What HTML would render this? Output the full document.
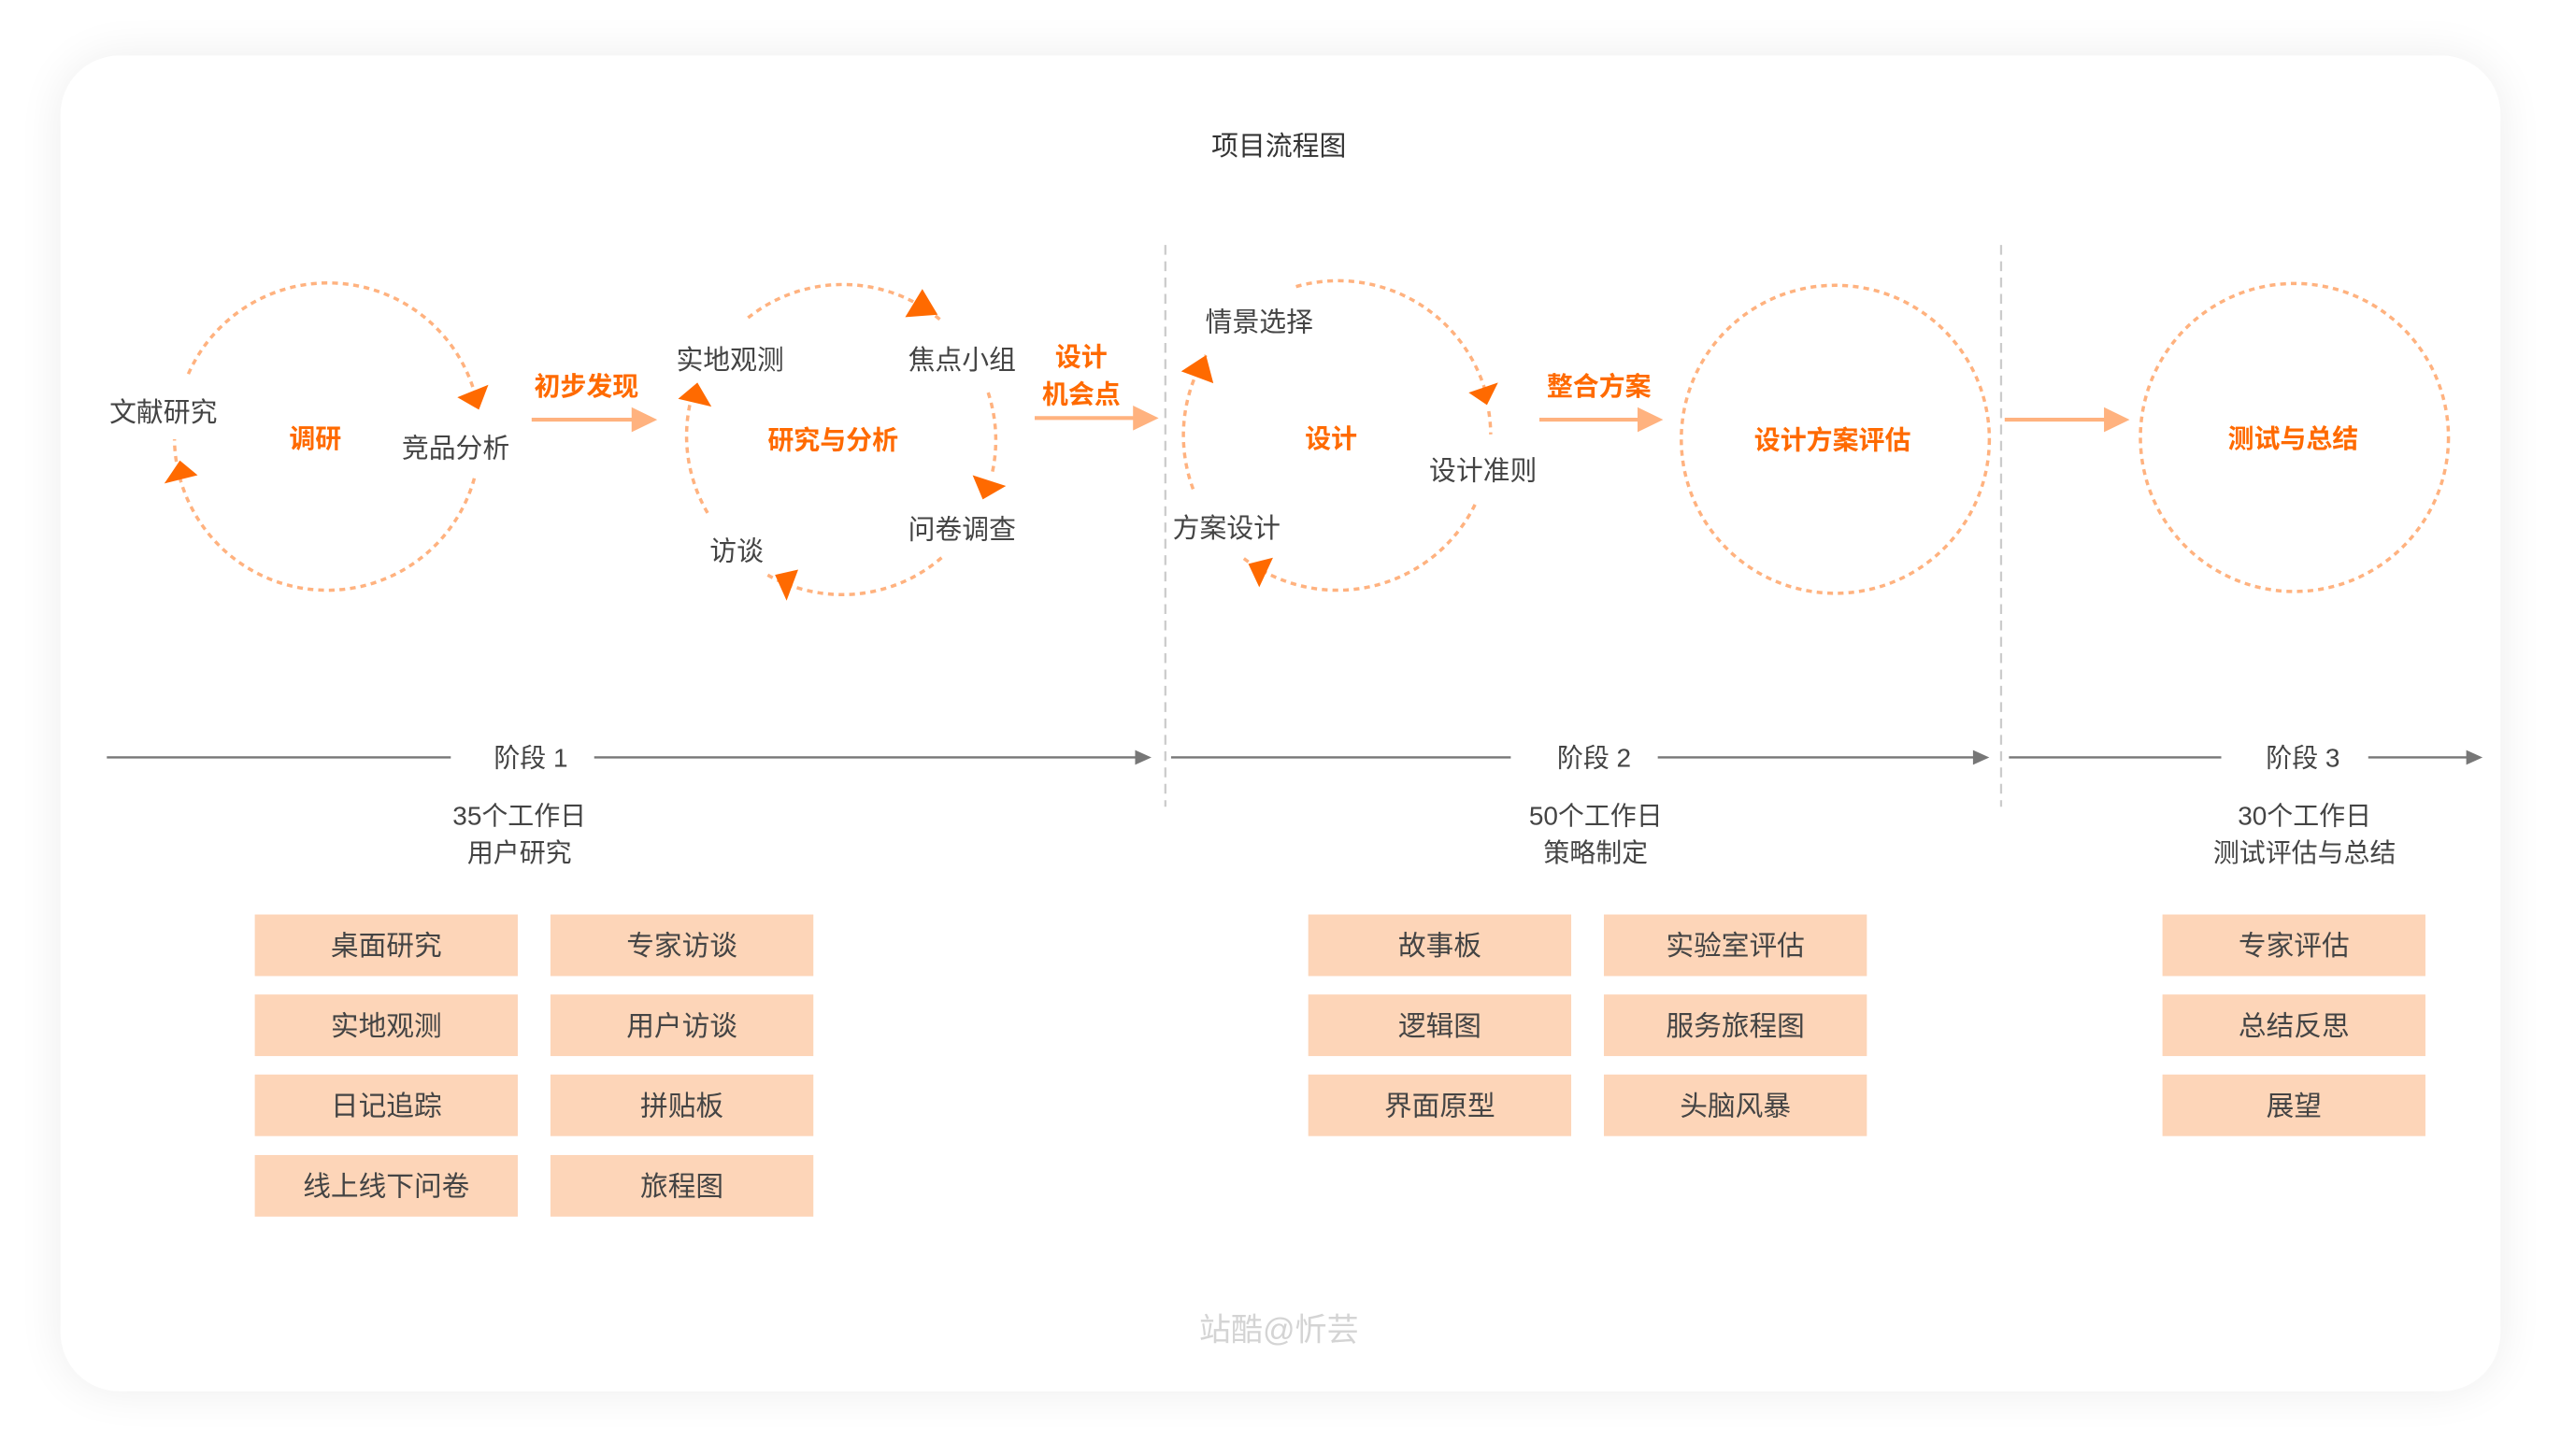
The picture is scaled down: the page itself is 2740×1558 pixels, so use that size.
<!DOCTYPE html>
<html><head><meta charset="utf-8"><style>
html,body{margin:0;padding:0;background:#fff;}
svg{display:block;}
text{font-family:"Liberation Sans","Noto Sans CJK SC",sans-serif;}
</style></head><body>
<svg width="2740" height="1558" viewBox="0 0 1568 891.6" xmlns="http://www.w3.org/2000/svg">
<defs>
<filter id="sh" x="-10%" y="-10%" width="120%" height="120%"><feGaussianBlur stdDeviation="14"/></filter>
</defs>
<rect width="1568" height="891.6" fill="#fff"/>
<rect x="37" y="34" width="1494" height="818" rx="36" fill="#000" opacity="0.07" filter="url(#sh)"/>
<rect x="37" y="34" width="1494" height="818" rx="36" fill="#fff"/>

<text x="783" y="95" font-size="16.5" fill="#333" text-anchor="middle">项目流程图</text>

<g fill="none" stroke="#ffb27f" stroke-width="2" stroke-dasharray="3.5 3">
<path d="M115.3 229 A93.5 93.5 0 0 1 293 251"/>
<path d="M290.4 292.9 A93.5 93.5 0 0 1 106.8 269"/>
<path d="M458 194.6 A93 93 0 0 1 576.5 196.5"/>
<path d="M605 240.4 A93 93 0 0 1 607.4 290"/>
<path d="M576.5 341.5 A93 93 0 0 1 469.8 352"/>
<path d="M422.3 248 A93 93 0 0 0 434.2 315.7"/>
<path d="M793.5 175.5 A94 94 0 0 1 911.5 248"/>
<path d="M911.5 251.8 A94 94 0 0 1 912.7 266"/>
<path d="M903.1 309 A94 94 0 0 1 759.8 340.6"/>
<path d="M730.5 299.5 A94 94 0 0 1 738.4 217.5"/>
<circle cx="1123.7" cy="269" r="94.3"/>
<circle cx="1404.8" cy="267.9" r="94.3"/>
</g>

<g fill="#ff6a00">
<polygon points="299,235.6 280,243.3 293.2,250.9"/>
<polygon points="100.6,296.1 110.1,282 121,291"/>
<polygon points="564.7,177 554.2,194.2 574.1,192.7"/>
<polygon points="427,234.3 415.2,244.2 435.6,249"/>
<polygon points="595.5,291 615.9,297.6 601.7,305.8"/>
<polygon points="474.5,352 488.7,348.8 481.6,367.8"/>
<polygon points="899.2,240.4 917.2,234.3 910.4,248"/>
<polygon points="764.3,345.3 779.4,341.5 771,359.6"/>
<polygon points="738.4,217.5 723.2,227.4 742.9,234.7"/>
</g>

<g stroke="#ffb27f" stroke-width="2.4" fill="#ffb27f">
<line x1="325.5" y1="257" x2="388" y2="257"/><polygon stroke="none" points="386.7,249.4 402.4,257 386.7,264.6"/>
<line x1="633.5" y1="256" x2="695" y2="256"/><polygon stroke="none" points="693.7,248.4 709.4,256 693.7,263.6"/>
<line x1="942.5" y1="257" x2="1004" y2="257"/><polygon stroke="none" points="1002.6,249.4 1018.3,257 1002.6,264.6"/>
<line x1="1227.4" y1="257" x2="1289" y2="257"/><polygon stroke="none" points="1288.2,249.4 1303.9,257 1288.2,264.6"/>
</g>

<g stroke="#cccccc" stroke-width="1.3" stroke-dasharray="6 4">
<line x1="713.5" y1="150" x2="713.5" y2="494"/>
<line x1="1225.2" y1="150" x2="1225.2" y2="494"/>
</g>

<g font-size="16.5" fill="#444" text-anchor="middle">
<text x="100" y="258">文献研究</text>
<text x="279" y="280">竞品分析</text>
<text x="447" y="226">实地观测</text>
<text x="589" y="226">焦点小组</text>
<text x="589" y="330">问卷调查</text>
<text x="451" y="343">访谈</text>
<text x="771" y="203">情景选择</text>
<text x="908" y="294">设计准则</text>
<text x="751" y="329">方案设计</text>
</g>
<g font-size="16" fill="#ff6a00" font-weight="bold" text-anchor="middle">
<text x="193" y="274">调研</text>
<text x="359" y="242">初步发现</text>
<text x="510" y="275">研究与分析</text>
<text x="662" y="224">设计</text>
<text x="662" y="247">机会点</text>
<text x="815" y="274">设计</text>
<text x="979" y="242">整合方案</text>
<text x="1122" y="275">设计方案评估</text>
<text x="1404" y="274">测试与总结</text>
</g>

<g stroke="#777" stroke-width="1.4">
<line x1="65.4" y1="463.8" x2="276" y2="463.8"/>
<line x1="363.8" y1="463.8" x2="697" y2="463.8"/>
<line x1="717" y1="463.8" x2="925" y2="463.8"/>
<line x1="1015" y1="463.8" x2="1210" y2="463.8"/>
<line x1="1230" y1="463.8" x2="1360" y2="463.8"/>
<line x1="1450" y1="463.8" x2="1512" y2="463.8"/>
</g>
<g fill="#777">
<polygon points="695,459.3 705,463.8 695,468.3"/>
<polygon points="1208,459.3 1218,463.8 1208,468.3"/>
<polygon points="1510,459.3 1520,463.8 1510,468.3"/>
</g>
<g font-size="16" fill="#444" text-anchor="middle">
<text x="325" y="469.5">阶段 1</text>
<text x="976" y="469.5">阶段 2</text>
<text x="1410" y="469.5">阶段 3</text>
<text x="318" y="505">35个工作日</text>
<text x="318" y="527.5">用户研究</text>
<text x="977" y="505">50个工作日</text>
<text x="977" y="527.5">策略制定</text>
<text x="1411" y="505">30个工作日</text>
<text x="1411" y="527.5">测试评估与总结</text>
</g>

<g fill="#fdd5b8">
<rect x="156" y="560" width="161" height="37.7"/><rect x="337" y="560" width="161" height="37.7"/>
<rect x="156" y="609" width="161" height="37.7"/><rect x="337" y="609" width="161" height="37.7"/>
<rect x="156" y="658" width="161" height="37.7"/><rect x="337" y="658" width="161" height="37.7"/>
<rect x="156" y="707.3" width="161" height="37.7"/><rect x="337" y="707.3" width="161" height="37.7"/>
<rect x="801" y="560" width="161" height="37.7"/><rect x="982" y="560" width="161" height="37.7"/>
<rect x="801" y="609" width="161" height="37.7"/><rect x="982" y="609" width="161" height="37.7"/>
<rect x="801" y="658" width="161" height="37.7"/><rect x="982" y="658" width="161" height="37.7"/>
<rect x="1324" y="560" width="161" height="37.7"/>
<rect x="1324" y="609" width="161" height="37.7"/>
<rect x="1324" y="658" width="161" height="37.7"/>
</g>
<g font-size="17" fill="#444" text-anchor="middle">
<text x="236.5" y="585">桌面研究</text><text x="417.5" y="585">专家访谈</text>
<text x="236.5" y="634">实地观测</text><text x="417.5" y="634">用户访谈</text>
<text x="236.5" y="683">日记追踪</text><text x="417.5" y="683">拼贴板</text>
<text x="236.5" y="732.3">线上线下问卷</text><text x="417.5" y="732.3">旅程图</text>
<text x="881.5" y="585">故事板</text><text x="1062.5" y="585">实验室评估</text>
<text x="881.5" y="634">逻辑图</text><text x="1062.5" y="634">服务旅程图</text>
<text x="881.5" y="683">界面原型</text><text x="1062.5" y="683">头脑风暴</text>
<text x="1404.5" y="585">专家评估</text>
<text x="1404.5" y="634">总结反思</text>
<text x="1404.5" y="683">展望</text>
</g>

<text x="783" y="821" font-size="19.5" fill="#d4d4d4" text-anchor="middle">站酷@忻芸</text>
</svg>
</body></html>
